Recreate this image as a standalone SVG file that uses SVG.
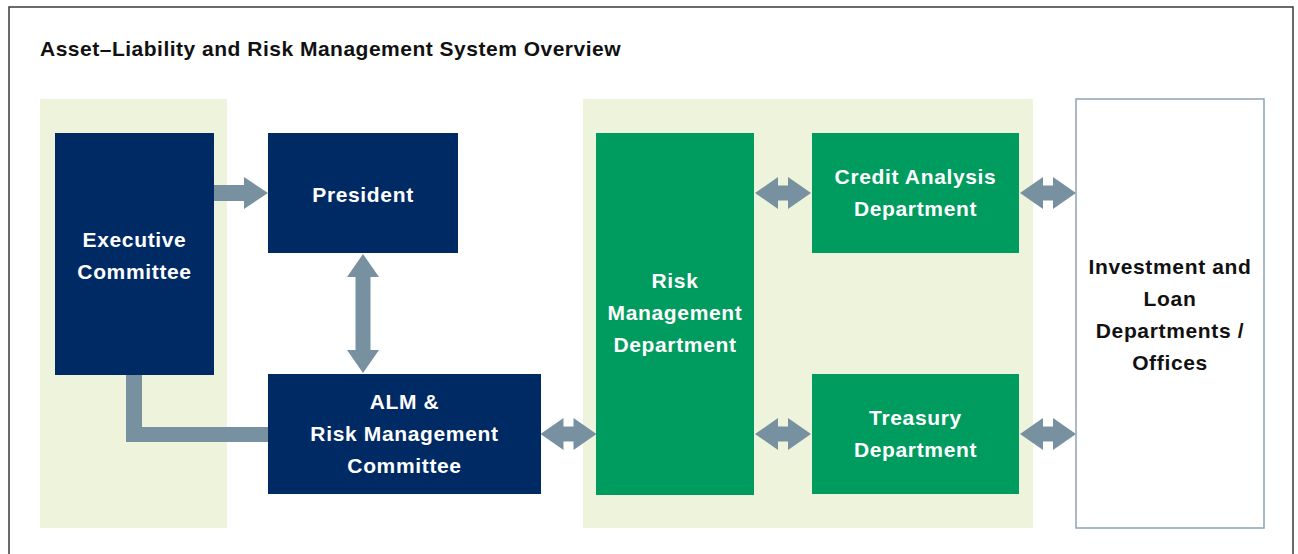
<svg xmlns="http://www.w3.org/2000/svg" width="1298" height="554" viewBox="0 0 1298 554">
  <style>
    .navy { fill: #002A64; }
    .green { fill: #009B5E; }
    .panel { fill: #EEF3DC; }
    .conn { fill: #7791A0; }
    .t { font-family: "Liberation Sans", Arial, sans-serif; font-weight: bold; font-size: 21px; letter-spacing: 0.65px; text-anchor: middle; }
    .w { fill: #FFFFFF; }
    .k { fill: #111111; }
  </style>
  <defs>
    <path id="dbl" d="M-28,0 L-5,-16 L-5,-7.5 L5,-7.5 L5,-16 L28,0 L5,16 L5,7.5 L-5,7.5 L-5,16 Z"/>
  </defs>
  <rect x="0" y="0" width="1298" height="554" fill="#FFFFFF"/>
  <rect x="9" y="7" width="1284" height="570" fill="none" stroke="#3A3A3A" stroke-width="1.5"/>
  <text x="40" y="56" font-family="Liberation Sans, Arial, sans-serif" font-weight="bold" font-size="21" letter-spacing="0.5" fill="#111111">Asset–Liability and Risk Management System Overview</text>

  <g id="panels">
    <rect class="panel" x="40" y="99" width="187" height="429"/>
    <rect class="panel" x="583" y="99" width="450" height="429"/>
  </g>

  <g id="connectors">
    <path class="conn" d="M214,185 L244,185 L244,177 L268,193 L244,209 L244,201 L214,201 Z"/>
    <path class="conn" d="M355.5,277 L347,277 L363,254 L379,277 L370.5,277 L370.5,350 L379,350 L363,373 L347,350 L355.5,350 Z"/>
    <path class="conn" d="M126,375 H142 V427 H268 V442 H126 Z"/>
    <use href="#dbl" class="conn" transform="translate(568.5,434)"/>
    <use href="#dbl" class="conn" transform="translate(783,193)"/>
    <use href="#dbl" class="conn" transform="translate(1048,193)"/>
    <use href="#dbl" class="conn" transform="translate(783,434)"/>
    <use href="#dbl" class="conn" transform="translate(1048,434)"/>
  </g>

  <g id="executive-committee">
    <rect class="navy" x="55" y="133" width="159" height="242"/>
    <text class="t w" x="134.5" y="247">Executive</text>
    <text class="t w" x="134.5" y="279">Committee</text>
  </g>

  <g id="president">
    <rect class="navy" x="268" y="133" width="190" height="120"/>
    <text class="t w" x="363" y="202">President</text>
  </g>

  <g id="alm-committee">
    <rect class="navy" x="268" y="374" width="273" height="120"/>
    <text class="t w" x="404.5" y="409">ALM &amp;</text>
    <text class="t w" x="404.5" y="441">Risk Management</text>
    <text class="t w" x="404.5" y="473">Committee</text>
  </g>

  <g id="risk-management-department">
    <rect class="green" x="596" y="133" width="158" height="362"/>
    <text class="t w" x="675" y="288">Risk</text>
    <text class="t w" x="675" y="320">Management</text>
    <text class="t w" x="675" y="352">Department</text>
  </g>

  <g id="credit-analysis-department">
    <rect class="green" x="812" y="133" width="207" height="120"/>
    <text class="t w" x="915.5" y="184">Credit Analysis</text>
    <text class="t w" x="915.5" y="216">Department</text>
  </g>

  <g id="treasury-department">
    <rect class="green" x="812" y="374" width="207" height="120"/>
    <text class="t w" x="915.5" y="425">Treasury</text>
    <text class="t w" x="915.5" y="457">Department</text>
  </g>

  <g id="investment-loan-departments">
    <rect x="1076" y="99" width="188" height="429" fill="#FFFFFF" stroke="#8DA3B3" stroke-width="1.5"/>
    <text class="t k" x="1170" y="274">Investment and</text>
    <text class="t k" x="1170" y="306">Loan</text>
    <text class="t k" x="1170" y="338">Departments /</text>
    <text class="t k" x="1170" y="370">Offices</text>
  </g>
</svg>
